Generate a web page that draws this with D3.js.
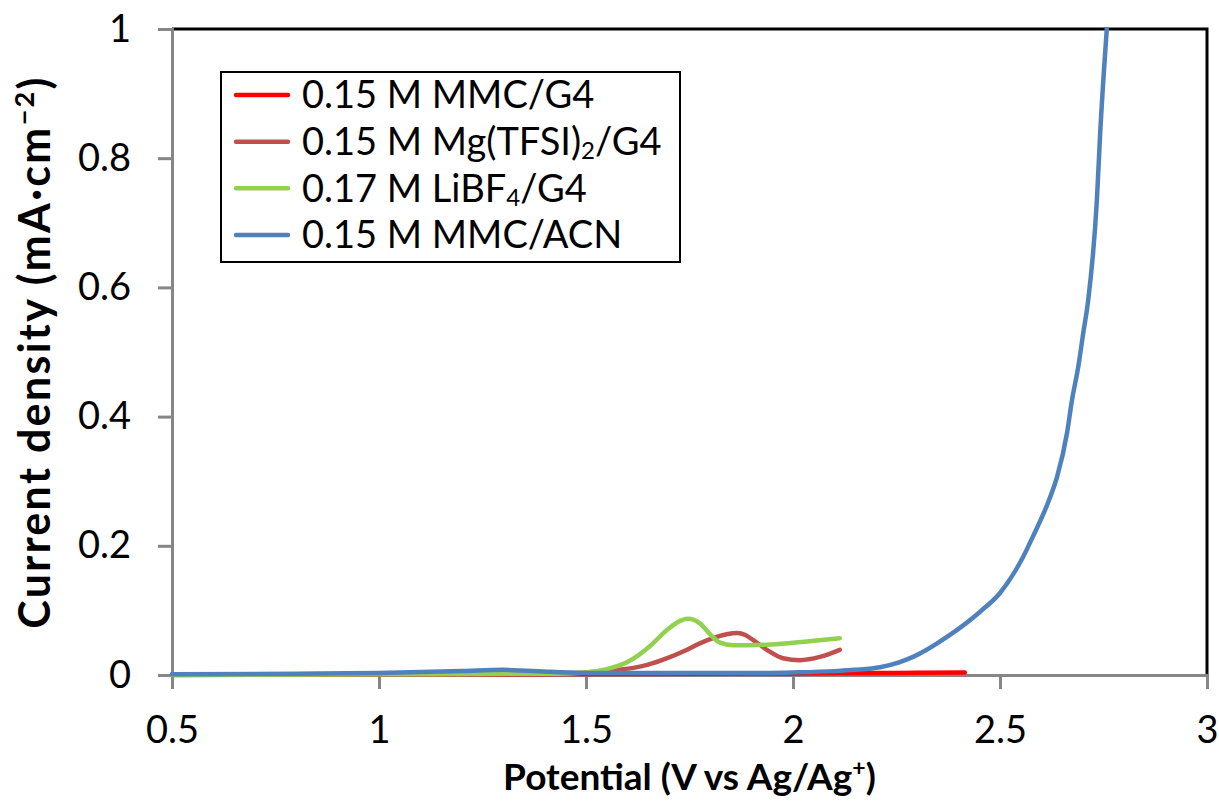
<!DOCTYPE html>
<html>
<head>
<meta charset="utf-8">
<script src="https://cdn.jsdelivr.net/npm/d3@7/dist/d3.min.js"></script>
<style>
  html, body { margin: 0; padding: 0; background: #fff; }
  svg text { font-family: Lato, "Open Sans", sans-serif; fill: #000; }
</style>
</head>
<body>
<svg id="chart" width="1219" height="803"></svg>
<script>
// ---- Data ----
const xTicks = [0.5, 1, 1.5, 2, 2.5, 3];
const yTicks = [0, 0.2, 0.4, 0.6, 0.8, 1];

const mmcG4X = [0.5, 1.0, 1.5, 1.8, 2.0, 2.2, 2.3, 2.415];
const mmcG4Y = [0.0005, 0.001, 0.0015, 0.002, 0.0025, 0.003, 0.0035, 0.004];

const mgTfsiX = [0.5, 1.0, 1.4, 1.5, 1.55, 1.614, 1.65, 1.696, 1.74, 1.775, 1.816, 1.84, 1.865, 1.885, 1.904, 1.937, 1.976, 2.017, 2.065, 2.113];
const mgTfsiY = [0.0, 0.001, 0.002, 0.004, 0.007, 0.011, 0.016, 0.026, 0.038, 0.049, 0.059, 0.063, 0.065, 0.062, 0.054, 0.039, 0.026, 0.023, 0.028, 0.039];

const libf4X = [0.5, 1.0, 1.4, 1.5, 1.55, 1.6, 1.655, 1.696, 1.725, 1.746, 1.775, 1.8, 1.824, 1.855, 1.937, 2.0, 2.05, 2.113];
const libf4Y = [0.0, 0.001, 0.002, 0.004, 0.009, 0.02, 0.045, 0.07, 0.083, 0.087, 0.08, 0.063, 0.05, 0.046, 0.047, 0.05, 0.053, 0.057];

const mmcAcnX = [0.5, 0.8, 1.0, 1.2, 1.3, 1.413, 1.5, 1.7, 1.9, 2.0, 2.1, 2.15, 2.21, 2.258, 2.29, 2.372, 2.452, 2.5, 2.556, 2.58, 2.621, 2.638, 2.662, 2.674, 2.689, 2.701, 2.713, 2.734, 2.742, 2.758];
const mmcAcnY = [0.001, 0.002, 0.003, 0.006, 0.008, 0.005, 0.003, 0.003, 0.003, 0.004, 0.006, 0.008, 0.012, 0.02, 0.028, 0.059, 0.098, 0.127, 0.183, 0.215, 0.275, 0.307, 0.375, 0.426, 0.477, 0.529, 0.58, 0.735, 0.839, 1.0];

const seriesNames = ["0.15 M MMC/G4", "0.15 M Mg(TFSI)2/G4", "0.17 M LiBF4/G4", "0.15 M MMC/ACN"];
const seriesColors = ["#FF0000", "#C0504D", "#92D050", "#4F81BD"];

// ---- Build series ----
const zip = (xs, ys) => xs.map((x, i) => ({x, y: ys[i]}));
const series = [
  {name: seriesNames[0], color: seriesColors[0], pts: zip(mmcG4X, mmcG4Y)},
  {name: seriesNames[1], color: seriesColors[1], pts: zip(mgTfsiX, mgTfsiY)},
  {name: seriesNames[2], color: seriesColors[2], pts: zip(libf4X, libf4Y)},
  {name: seriesNames[3], color: seriesColors[3], pts: zip(mmcAcnX, mmcAcnY)}
];

const svg = d3.select("#chart");
const L = 172, R = 1207, T = 29, B = 675;
const x = d3.scaleLinear().domain([0.5, 3]).range([L, R]);
const y = d3.scaleLinear().domain([0, 1]).range([B, T]);

// plot area border (top/right black)
svg.append("path")
  .attr("d", `M${L},${T}H${R}V${B}`)
  .attr("fill", "none").attr("stroke", "#000").attr("stroke-width", 3);

// x axis
const xAxis = svg.append("g").attr("transform", `translate(0,${B})`)
  .call(d3.axisBottom(x).tickValues(xTicks).tickSize(14).tickPadding(27).tickFormat(d3.format("")));
// y axis
const yAxis = svg.append("g").attr("transform", `translate(${L},0)`)
  .call(d3.axisLeft(y).tickValues(yTicks).tickSize(14).tickPadding(27).tickFormat(d3.format("")));

[xAxis, yAxis].forEach(g => {
  g.select(".domain").attr("stroke", "#868686").attr("stroke-width", 3);
  g.selectAll(".tick line").attr("stroke", "#868686").attr("stroke-width", 3);
  g.selectAll(".tick text").style("font-size", "38px").style("font-family", "Lato").attr("fill", "#000");
});

// lines
const line = d3.line().x(d => x(d.x)).y(d => y(d.y)).curve(d3.curveMonotoneX);
svg.append("g").selectAll("path").data(series).join("path")
  .attr("d", d => line(d.pts))
  .attr("fill", "none")
  .attr("stroke", d => d.color)
  .attr("stroke-width", 4.5)
  .attr("stroke-linejoin", "round")
  .attr("stroke-linecap", "round");

// axis titles
const xt = svg.append("text")
  .attr("x", (L + R) / 2).attr("y", 790)
  .attr("text-anchor", "middle")
  .style("font-size", "37px").style("font-weight", "bold");
xt.append("tspan").text("Potential (V vs Ag/Ag");
xt.append("tspan").attr("baseline-shift", "super").style("font-size", "23px").text("+");
xt.append("tspan").text(")");

const yt = svg.append("text")
  .attr("transform", `translate(50,${(T + B) / 2}) rotate(-90)`)
  .attr("text-anchor", "middle")
  .style("font-size", "43px").style("font-weight", "bold")
  .style("letter-spacing", "2.3px");
yt.append("tspan").text("Current density (mA·cm");
yt.append("tspan").attr("baseline-shift", "super").style("font-size", "27px").text("−2");
yt.append("tspan").text(")");

// legend
const lg = svg.append("g");
lg.append("rect")
  .attr("x", 221).attr("y", 72).attr("width", 459).attr("height", 190)
  .attr("fill", "#fff").attr("stroke", "#000").attr("stroke-width", 2);
const rowY = d3.scalePoint().domain(seriesNames).range([95, 235]);
const rows = lg.selectAll("g.row").data(series).join("g").attr("class", "row")
  .attr("transform", d => `translate(0,${rowY(d.name)})`);
rows.append("line").attr("x1", 236).attr("x2", 288)
  .attr("stroke", d => d.color).attr("stroke-width", 4.5).attr("stroke-linecap", "round");
rows.each(function(d) {
  const t = d3.select(this).append("text").attr("x", 302).attr("dy", "0.35em").style("font-size", "38px");
  const m = d.name.match(/^(.*?)(\d)(\/G4)$/);
  if (m && (d.name.includes("TFSI") || d.name.includes("LiBF"))) {
    t.append("tspan").text(m[1]);
    t.append("tspan").attr("baseline-shift", "-18%").style("font-size", "24px").text(m[2]);
    t.append("tspan").text(m[3]);
  } else {
    t.text(d.name);
  }
});
</script>
</body>
</html>
